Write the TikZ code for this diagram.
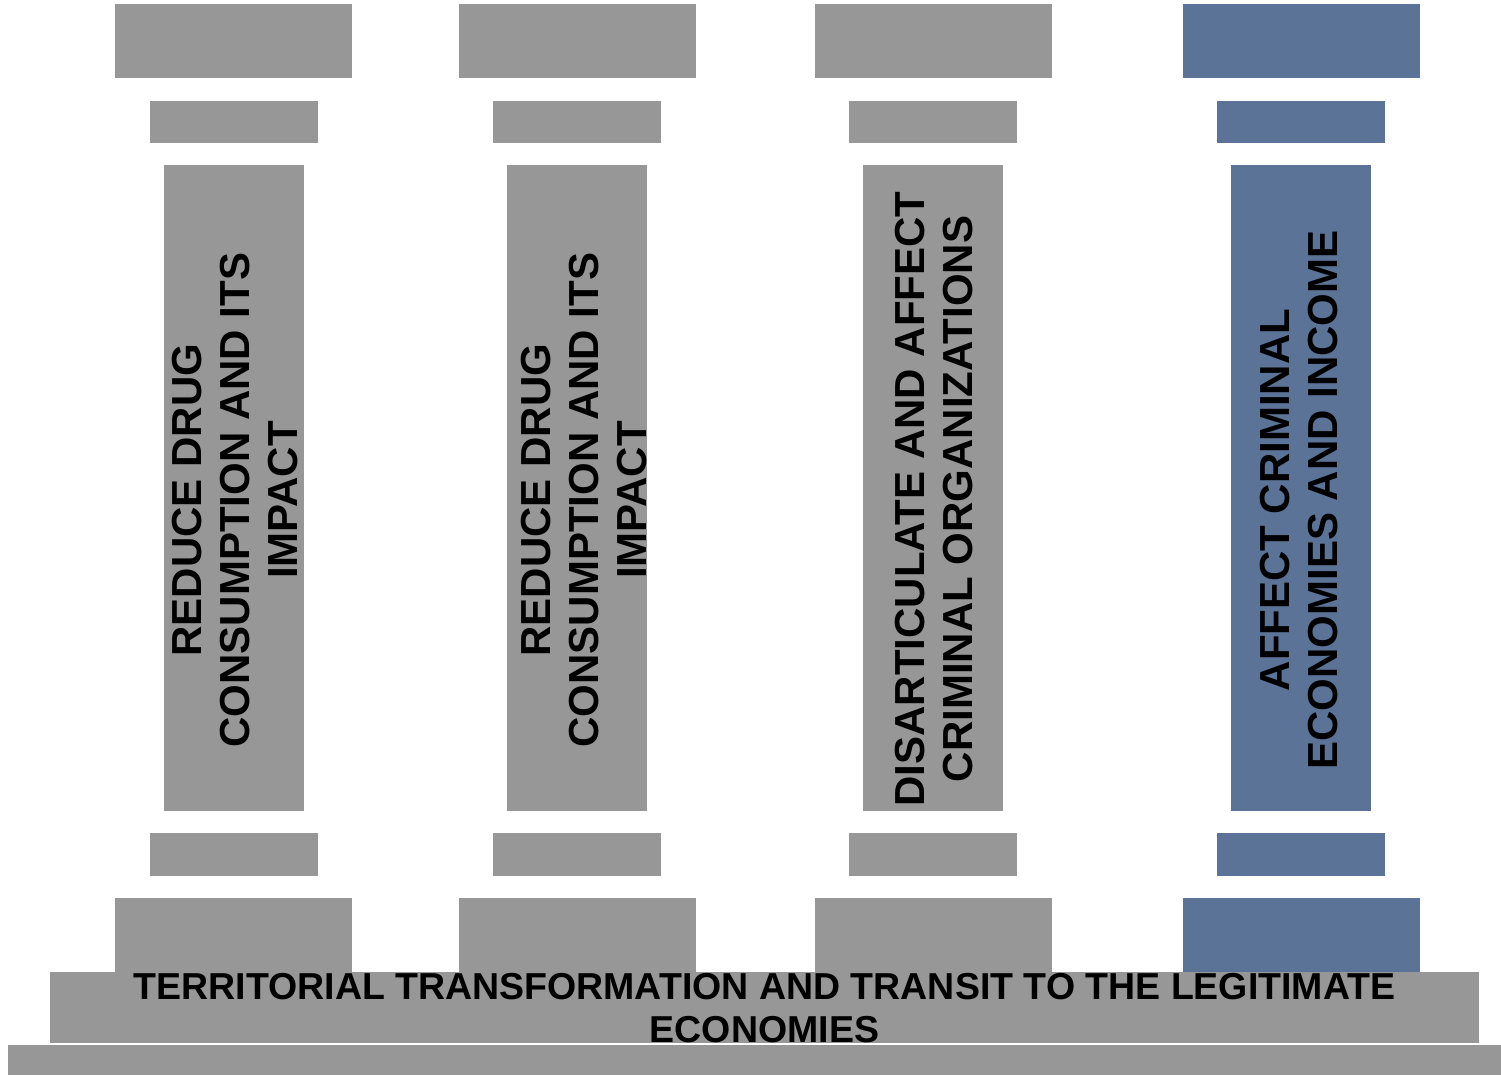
\documentclass[tikz,border=0pt]{standalone}
\usepackage{fontspec}
\setmainfont{Liberation Sans}
\definecolor{pgray}{RGB}{151,151,151}
\definecolor{pblue}{RGB}{91,115,151}
\begin{document}
\begin{tikzpicture}[x=1pt,y=-1pt,
  coltext/.style={rotate=90,align=center,inner sep=0pt,text=black,
    font=\fontsize{42}{48}\selectfont\bfseries},
  basetext/.style={align=center,inner sep=0pt,text=black,
    font=\fontsize{37.5}{43}\selectfont\bfseries}]
\useasboundingbox (0,0) rectangle (1501,1075);
% pillars: top cap, upper ring, shaft, lower ring, plinth
\foreach \cx/\col in {233.5/pgray,577/pgray,933/pgray,1301/pblue}{
  \fill[\col] (\cx-118.5,4) rectangle (\cx+118.5,78.5);
  \fill[\col] (\cx-84,101) rectangle (\cx+84,143.5);
  \fill[\col] (\cx-70,165) rectangle (\cx+70,811);
  \fill[\col] (\cx-84,833) rectangle (\cx+84,875.5);
  \fill[\col] (\cx-118.5,898) rectangle (\cx+118.5,972);
}
% base slabs
\fill[pgray] (50,972) rectangle (1479,1042.5);
\fill[pgray] (8,1044.5) rectangle (1501,1075);
% texts
\node[coltext] (t1) at (235,500) {REDUCE DRUG\\CONSUMPTION AND ITS\\IMPACT};
\node[coltext] (t2) at (584,500) {REDUCE DRUG\\CONSUMPTION AND ITS\\IMPACT};
\node[coltext] (t3) at (934,499) {DISARTICULATE AND AFFECT\\CRIMINAL ORGANIZATIONS};
\node[coltext] (t4) at (1299,500) {AFFECT CRIMINAL\\ECONOMIES AND INCOME};
\node[basetext] (tb) at (764.5,1008) {TERRITORIAL TRANSFORMATION AND TRANSIT TO THE LEGITIMATE\\ECONOMIES};
\end{tikzpicture}
\end{document}
